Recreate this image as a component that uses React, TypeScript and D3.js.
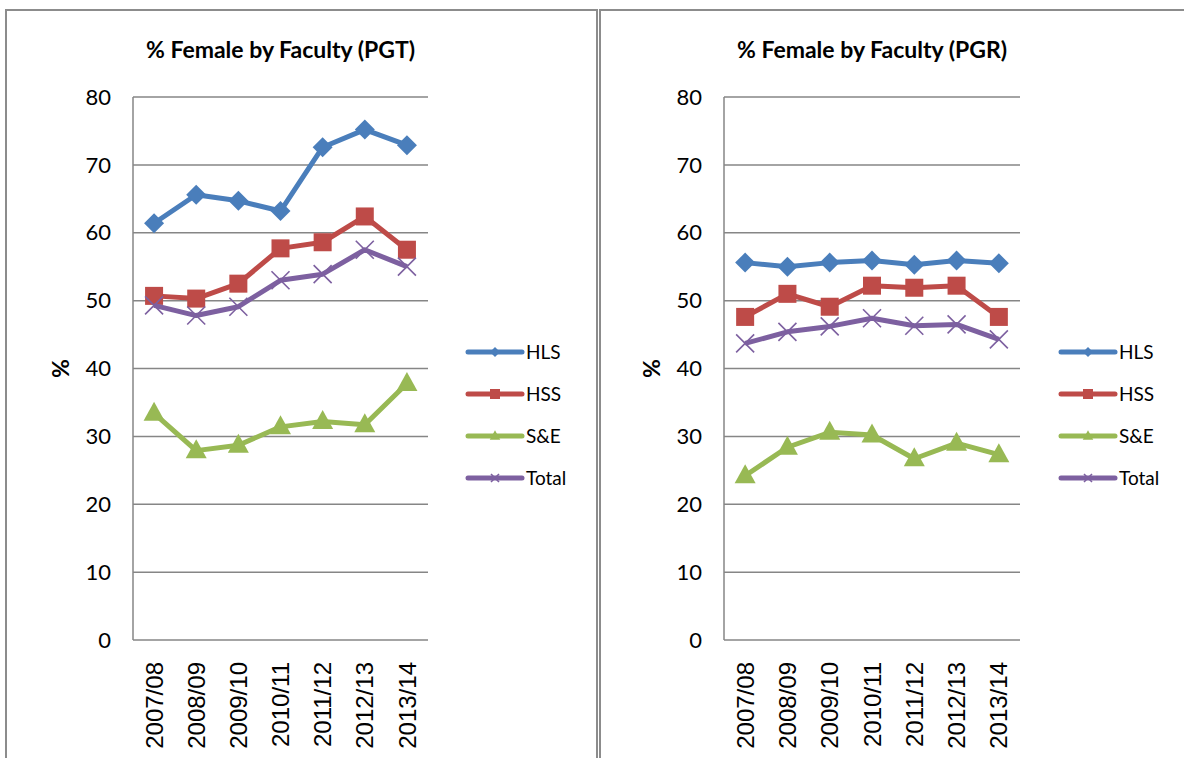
import React, { useEffect, useRef } from "react";
import * as d3 from "d3";

const categories = ["2007/08", "2008/09", "2009/10", "2010/11", "2011/12", "2012/13", "2013/14"];
const seriesNames = ["HLS", "HSS", "S&E", "Total"];
const seriesColors = ["#4a7ebb", "#be4b48", "#98b954", "#7d60a0"];
const yTicks = [0, 10, 20, 30, 40, 50, 60, 70, 80];

// PGT (taught postgraduates)
const pgtHLS = [61.4, 65.6, 64.7, 63.2, 72.6, 75.2, 72.9];
const pgtHSS = [50.7, 50.3, 52.5, 57.7, 58.6, 62.4, 57.5];
const pgtSE = [33.4, 27.9, 28.7, 31.4, 32.2, 31.7, 37.8];
const pgtTotal = [49.3, 47.8, 49.1, 53.0, 53.9, 57.5, 55.0];

// PGR (research postgraduates)
const pgrHLS = [55.6, 55.0, 55.6, 55.9, 55.3, 55.9, 55.5];
const pgrHSS = [47.6, 51.0, 49.1, 52.2, 51.9, 52.2, 47.6];
const pgrSE = [24.2, 28.4, 30.6, 30.2, 26.7, 29.0, 27.3];
const pgrTotal = [43.7, 45.4, 46.2, 47.4, 46.3, 46.5, 44.3];

const calibri = "Lato, 'Open Sans', sans-serif";

const App = () => {
  const svgRef = useRef<SVGSVGElement | null>(null);

  useEffect(() => {
    drawChart();
  }, []);

  const drawMarker = (g: any, kind: number, x: number, y: number, s: number, color: string) => {
    if (kind === 0) {
      g.append("path")
        .attr("d", `M${x},${y - s}L${x + s},${y}L${x},${y + s}L${x - s},${y}Z`)
        .attr("fill", color);
    } else if (kind === 1) {
      g.append("rect")
        .attr("x", x - s)
        .attr("y", y - s)
        .attr("width", s * 2)
        .attr("height", s * 2)
        .attr("fill", color);
    } else if (kind === 2) {
      g.append("path")
        .attr("d", `M${x},${y - s * 1.15}L${x + s * 1.05},${y + s * 0.75}L${x - s * 1.05},${y + s * 0.75}Z`)
        .attr("fill", color);
    } else {
      g.append("path")
        .attr("d", `M${x - s},${y - s}L${x + s},${y + s}M${x - s},${y + s}L${x + s},${y - s}`)
        .attr("stroke", color)
        .attr("stroke-width", 1.6)
        .attr("fill", "none");
    }
  };

  const drawPanel = (svg: any, opts: any) => {
    const { left, right, top, bottom, title, data, legendX } = opts;

    const xScale = d3.scaleBand().domain(categories).range([left, right]);
    const yScale = d3.scaleLinear().domain([0, 80]).range([bottom, top]);
    const cx = (c: string) => (xScale(c) as number) + xScale.bandwidth() / 2;

    // gridlines
    svg
      .append("g")
      .selectAll("line")
      .data(yTicks)
      .enter()
      .append("line")
      .attr("x1", left)
      .attr("x2", right)
      .attr("y1", (d: number) => yScale(d))
      .attr("y2", (d: number) => yScale(d))
      .attr("stroke", "#868686")
      .attr("stroke-width", 1.5);

    // y axis line
    svg
      .append("line")
      .attr("x1", left)
      .attr("x2", left)
      .attr("y1", top)
      .attr("y2", bottom)
      .attr("stroke", "#868686")
      .attr("stroke-width", 1.5);

    // y tick labels
    svg
      .append("g")
      .selectAll("text")
      .data(yTicks)
      .enter()
      .append("text")
      .attr("x", left - 22)
      .attr("y", (d: number) => yScale(d))
      .attr("dy", "0.35em")
      .attr("text-anchor", "end")
      .style("font-family", calibri)
      .style("font-size", "22px")
      .text((d: number) => d);

    // x tick labels
    svg
      .append("g")
      .selectAll("text")
      .data(categories)
      .enter()
      .append("text")
      .attr("transform", (d: string) => `translate(${cx(d)},${bottom + 22}) rotate(-90)`)
      .attr("dy", "0.36em")
      .attr("text-anchor", "end")
      .style("font-family", "'Liberation Sans', Arial, sans-serif")
      .style("font-size", "24px")
      .text((d: string) => d);

    // Title
    svg
      .append("text")
      .attr("x", (left + right) / 2)
      .attr("y", 58)
      .attr("text-anchor", "middle")
      .style("font-family", calibri)
      .style("font-size", "23px")
      .style("font-weight", "bold")
      .text(title);

    // Y-axis label
    svg
      .append("text")
      .attr("transform", `translate(${left - 72},${yScale(40)}) rotate(-90)`)
      .attr("dy", "0.35em")
      .attr("text-anchor", "middle")
      .style("font-family", calibri)
      .style("font-size", "23px")
      .style("font-weight", "bold")
      .text("%");

    const line = d3
      .line<number>()
      .x((d, i) => cx(categories[i]))
      .y((d) => yScale(d));

    const markerSize = [10, 9, 10, 9];

    data.forEach((vals: number[], k: number) => {
      svg
        .append("path")
        .attr("d", line(vals))
        .attr("fill", "none")
        .attr("stroke", seriesColors[k])
        .attr("stroke-width", 5)
        .attr("stroke-linejoin", "round");
      const g = svg.append("g");
      vals.forEach((v, i) => drawMarker(g, k, cx(categories[i]), yScale(v), markerSize[k], seriesColors[k]));
    });

    // Legend
    seriesNames.forEach((name, k) => {
      const ly = 352 + k * 42;
      svg
        .append("line")
        .attr("x1", legendX)
        .attr("x2", legendX + 54)
        .attr("y1", ly)
        .attr("y2", ly)
        .attr("stroke", seriesColors[k])
        .attr("stroke-width", 5)
        .attr("stroke-linecap", "round");
      drawMarker(svg.append("g"), k, legendX + 27, ly, k === 3 ? 4 : 5, seriesColors[k]);
      svg
        .append("text")
        .attr("x", legendX + 58)
        .attr("y", ly)
        .attr("dy", "0.35em")
        .style("font-family", calibri)
        .style("font-size", "19px")
        .text(name);
    });
  };

  const drawChart = () => {
    const svg = d3.select(svgRef.current);
    svg.selectAll("*").remove();

    // panel frames
    svg
      .append("rect")
      .attr("x", 6)
      .attr("y", 10)
      .attr("width", 591)
      .attr("height", 780)
      .attr("fill", "#ffffff")
      .attr("stroke", "#8c8c8c")
      .attr("stroke-width", 2);
    svg
      .append("rect")
      .attr("x", 600)
      .attr("y", 10)
      .attr("width", 600)
      .attr("height", 780)
      .attr("fill", "#ffffff")
      .attr("stroke", "#8c8c8c")
      .attr("stroke-width", 2);

    drawPanel(svg, {
      left: 133,
      right: 428,
      top: 97,
      bottom: 640,
      title: "% Female by Faculty (PGT)",
      data: [pgtHLS, pgtHSS, pgtSE, pgtTotal],
      legendX: 468,
    });

    drawPanel(svg, {
      left: 724,
      right: 1020,
      top: 97,
      bottom: 640,
      title: "% Female by Faculty (PGR)",
      data: [pgrHLS, pgrHSS, pgrSE, pgrTotal],
      legendX: 1061,
    });
  };

  return (
    <svg
      ref={svgRef}
      width={1184}
      height={758}
      style={{ position: "absolute", left: 0, top: 0, background: "#ffffff" }}
    ></svg>
  );
};

export default App;
